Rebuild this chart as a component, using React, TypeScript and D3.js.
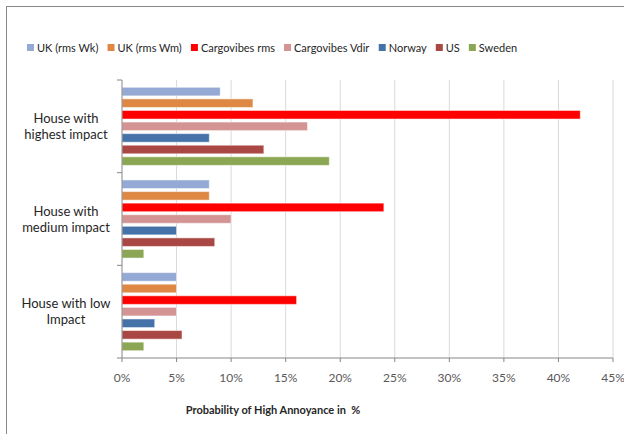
import React, { useMemo } from "react";
import * as d3 from "d3";

// Probability of high annoyance (%) per house and assessment method
const categories = ["House with highest impact", "House with medium impact", "House with low Impact"];
const categoryLines = [
  ["House with", "highest impact"],
  ["House with", "medium impact"],
  ["House with low", "Impact"],
];
const seriesNames = ["UK (rms Wk)", "UK (rms Wm)", "Cargovibes rms", "Cargovibes Vdir", "Norway", "US", "Sweden"];
const seriesColors = ["#95A9D5", "#DE8844", "#FF0000", "#D49494", "#4672AA", "#A94744", "#8BA753"];
const ukWk = [9, 8, 5];
const ukWm = [12, 8, 5];
const cargoRms = [42, 24, 16];
const cargoVdir = [17, 10, 5];
const norway = [8, 5, 3];
const us = [13, 8.5, 5.5];
const sweden = [19, 2, 2];
const xTicks = [0, 5, 10, 15, 20, 25, 30, 35, 40, 45];
const xTitle = "Probability of High Annoyance in  %";

const seriesValues = [ukWk, ukWm, cargoRms, cargoVdir, norway, us, sweden];

const W = 624;
const H = 434;
const FONT = "Lato, 'Open Sans', sans-serif";

export default function App() {
  const x = d3.scaleLinear().domain([0, 45]).range([122, 613]);
  const y = d3.scaleBand<string>().domain(categories).range([80, 358]).padding(0);
  const ys = d3
    .scaleBand<string>()
    .domain(seriesNames)
    .range([0, y.bandwidth()])
    .paddingInner(0)
    .paddingOuter(0.5);
  const barH = ys.bandwidth() * 0.74;

  // legend layout from measured text widths
  const legend = useMemo(() => {
    const ctx = document.createElement("canvas").getContext("2d")!;
    ctx.font = `11px ${FONT}`;
    let cx = 27;
    return seriesNames.map((name, i) => {
      const item = { name, color: seriesColors[i], x: cx };
      cx += 7 + 3 + ctx.measureText(name).width + 9;
      return item;
    });
  }, []);

  return (
    <svg
      width={W}
      height={H}
      style={{ position: "absolute", left: 0, top: 0, background: "#fff" }}
      fontFamily={FONT}
    >
      <rect x={6.5} y={6.5} width={W + 10} height={H + 10} fill="#fff" stroke="#8a8a8a" strokeWidth={1} />

      {/* legend */}
      {legend.map((d) => (
        <g key={d.name}>
          <rect x={d.x} y={44} width={7} height={7} fill={d.color} />
          <text x={d.x + 10} y={51.5} fontSize={11} fill="#262626">
            {d.name}
          </text>
        </g>
      ))}

      {/* vertical gridlines */}
      {xTicks.slice(1).map((t) => (
        <line key={t} x1={x(t)} x2={x(t)} y1={80} y2={358} stroke="#d9d9d9" strokeWidth={1} />
      ))}

      {/* bars */}
      {categories.map((c, ci) => (
        <g key={c} transform={`translate(0,${y(c)})`}>
          {seriesNames.map((s, si) => (
            <rect
              key={s}
              x={x(0)}
              y={(ys(s) as number) + (ys.bandwidth() - barH) / 2}
              width={x(seriesValues[si][ci]) - x(0)}
              height={barH}
              fill={seriesColors[si]}
              stroke="#ffffff"
              strokeOpacity={0.5}
              strokeWidth={1}
            />
          ))}
        </g>
      ))}

      {/* category axis */}
      <line x1={x(0)} x2={x(0)} y1={80} y2={358} stroke="#868686" />
      {[80, ...categories.map((c) => (y(c) as number) + y.bandwidth())].map((v, i) => (
        <line key={i} x1={x(0) - 5} x2={x(0)} y1={v} y2={v} stroke="#868686" />
      ))}
      {categories.map((c, ci) => {
        const cy = (y(c) as number) + y.bandwidth() / 2;
        const lines = categoryLines[ci];
        return (
          <text key={c} x={66} textAnchor="middle" fontSize={13} fill="#262626">
            {lines.map((l, li) => (
              <tspan key={li} x={66} y={cy + (li - (lines.length - 1) / 2) * 16 + 4.5}>
                {l}
              </tspan>
            ))}
          </text>
        );
      })}

      {/* value axis */}
      <line x1={x(0)} x2={x(45)} y1={358} y2={358} stroke="#868686" />
      {xTicks.map((t) => (
        <g key={t}>
          <line x1={x(t)} x2={x(t)} y1={358} y2={362} stroke="#868686" />
          <text x={x(t)} y={381.5} textAnchor="middle" fontSize={12} fill="#595959">
            {`${t}%`}
          </text>
        </g>
      ))}
      <text
        x={273}
        y={414}
        textAnchor="middle"
        fontSize={11}
        fontWeight="bold"
        fill="#262626"
        style={{ whiteSpace: "pre" }}
      >
        {xTitle}
      </text>
    </svg>
  );
}
